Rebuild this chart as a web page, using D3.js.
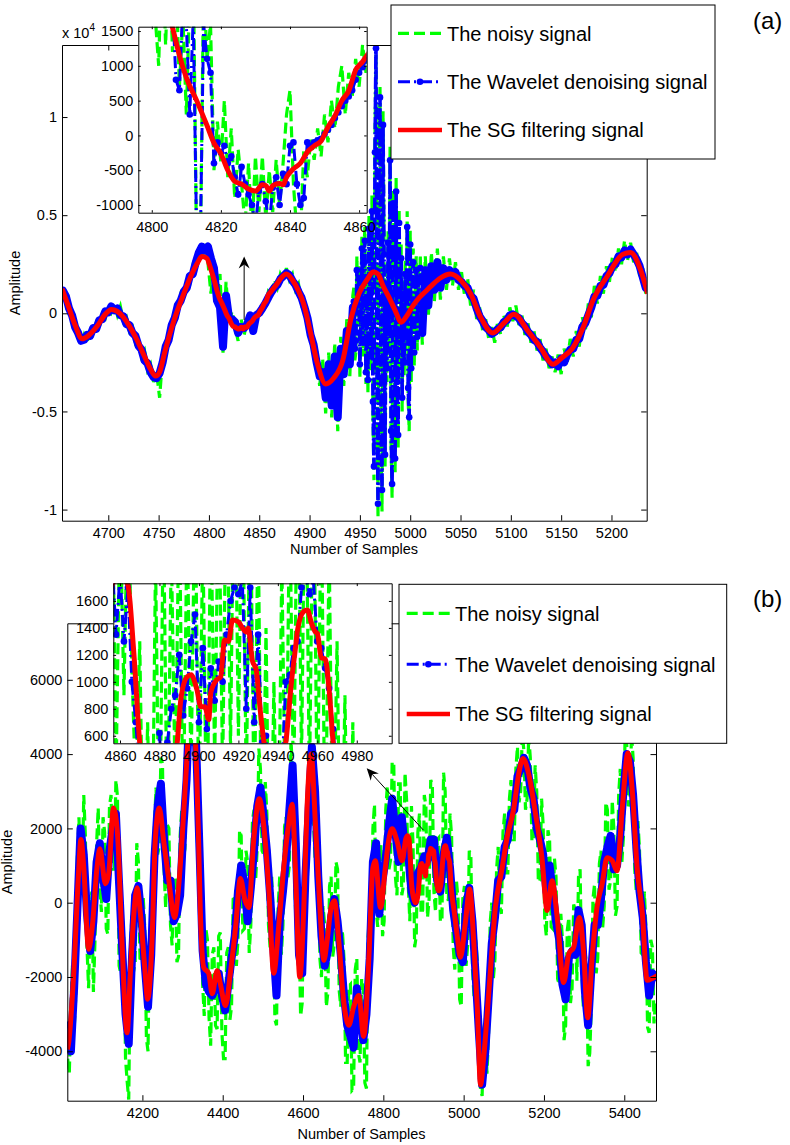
<!DOCTYPE html>
<html>
<head>
<meta charset="utf-8">
<script src="https://cdn.jsdelivr.net/npm/d3@7"></script>
<style>
  body { margin: 0; background: #fff; }
</style>
</head>
<body>
<div id="fig"></div>
<script>
// ---------- panel (a) data ----------
// before the burst: every 3 samples from 4655
var aStart1 = 4655, aStep1 = 3;
var aWavelet1 = [1150, 850, 250, -100, -700, -1000, -1400, -1350, -1100, -1150,
  -750, -800, -350, -300, 100, 50, 350, 150, 250, -100,
  -150, -550, -600, -1000, -1150, -1650, -1850, -2400, -2550, -3000,
  -3250, -3300, -3050, -2500, -1700, -1350, -600, -250, 400, 650,
  1100, 1300, 1900, 2000, 2600, 3100, 3400, 3200, 3400, 2800,
  2300, 650, 300, -1700, 900, -250, -300, -450, -1000, -700,
  -750, -550, -100, -900, -100, 20, 250, 500, 800, 1080,
  1300, 1450, 1750, 1900, 2050, 1950, 1650, 1450, 1100, 800,
  300, -250, -1100, -1600, -2500, -3200, -3000, -4300, -2600, -4700,
  -2200, -5300, -1800, -3100, -900, -2600, 300];
var aNoisy1 = [1000, 950, 0, 0, -850, -800, -1600, -1100, -1450, -900,
  -1050, -500, -700, -50, -250, 350, 50, 500, -100, 350,
  -400, -200, -900, -700, -1500, -1300, -2200, -1900, -2900, -2600,
  -3500, -3000, -4300, -2200, -2100, -1000, -1000, 100, 0, 950,
  800, 1700, 1500, 2400, 2200, 3300, 2700, 3600, 2600, 1000,
  2700, 700, 2000, -2000, 1600, -400, 100, -700, -1400, -300,
  -1100, -400, -700, -200, -350, 300, 100, 300, 1100, 900,
  1700, 1300, 2000, 1700, 2300, 1700, 2000, 1200, 1500, 500,
  800, -700, -600, -2100, -1900, -3700, -2300, -5100, -2000, -5300,
  -1500, -6000, -1200, -3700, -300, -3200, 900];
// the burst: every sample from 4944 to 5010
var aStart2 = 4944, aStep2 = 1;
var aWavelet2 = [600, -1800, -1400, 2200, 400, 1800, -2600, -300, 3300, -1500,
  2600, 3700, -3000, 500, -3400, 4300, 1200, -2200, 5200, -4500,
  -7800, 8200, 13500, -2500, -9700, 6500, 11000, -5800, -9000, 9600,
  3000, -7200, 1500, -2800, 3600, -1000, 7800, -6000, -8700, 5600,
  3000, -7400, 6200, -3500, -6200, 4600, -1500, 2800, -4300, 1000,
  -2500, 2000, -1200, 4400, -3800, -5300, 3500, -2800, 1800, 2600,
  -2000, 600, 2200, -1200, 1800, 200, 2300];
var aNoisy2 = [1300, -2400, -2000, 2900, -200, 2500, -3300, 300, 4000, -2200,
  3300, 4400, -3600, 1200, -4100, 5000, 600, -2900, 6000, -5200,
  -8500, 9000, 13200, -3200, -10400, 7200, 11600, -6500, -10100, 10300,
  3700, -7900, 2200, -3500, 4300, -1700, 8500, -6700, -9400, 6300,
  3700, -8100, 6900, -4200, -6900, 5300, -2200, 3500, -5000, 1700,
  -3200, 2700, -1900, 5200, -4500, -6000, 4200, -3500, 2500, 3300,
  -2700, 1300, 2900, -1900, 2500, -500, 3000];
// after the burst: every 3 samples from 5012
var aStart3 = 5012, aStep3 = 3;
var aWavelet3 = [-1000,
  2200, 400, 2400, 1200, 2600, 1300, 2300, 1700, 2200, 1900,
  2100, 1700, 1600, 1400, 1300, 900, 750, 250, -150, -400,
  -700, -850, -1050, -950, -800, -700, -450, -350, -100, -50,
  -150, -250, -500, -650, -950, -1100, -1350, -1450, -1750, -1950,
  -2200, -2350, -2600, -2500, -2700, -2300, -2500, -2100, -1850, -1800,
  -1350, -1300, -700, -500, -100, 300, 850, 900, 1400, 1450,
  1900, 2050, 2400, 2500, 2900, 2850, 3200, 3000, 3250, 3000,
  2750, 2400, 1850, 1300];
var aNoisy3 = [-1600,
  2900, -200, 3100, 600, 3300, 700, 2900, 1200, 2800, 1400,
  2600, 1200, 2100, 900, 1800, 400, 1200, -300, 300, -900,
  -300, -1300, -700, -1500, -400, -1100, -100, -800, 300, -400,
  400, -600, -100, -1100, -500, -1500, -900, -1900, -1300, -2400,
  -1800, -2800, -2200, -3000, -2100, -3100, -1800, -2500, -1300, -2200,
  -900, -1700, -200, -900, 500, -200, 1400, 500, 1900, 1000,
  2400, 1600, 2900, 2100, 3300, 2500, 3700, 2700, 3600, 2600,
  3100, 1900, 2300, 1000];
// SG filtered signal read at these samples
var aSgSamples = [4654, 4660, 4667, 4674, 4680, 4689, 4697, 4703, 4709, 4715,
  4721, 4728, 4736, 4742, 4747, 4751, 4756, 4765, 4775, 4783,
  4789, 4793, 4798, 4801, 4804, 4806, 4808, 4810, 4813, 4816,
  4818, 4820, 4822, 4824, 4826, 4828, 4830, 4832, 4833, 4834,
  4835, 4837, 4838, 4839, 4841, 4843, 4845, 4847, 4849, 4851,
  4853, 4855, 4857, 4859, 4861, 4863, 4867, 4871, 4877, 4883,
  4889, 4894, 4901, 4908, 4916, 4924, 4933, 4941, 4949, 4957,
  4963, 4968, 4973, 4980, 4985, 4991, 4997, 5003, 5009, 5015,
  5021, 5030, 5040, 5050, 5060, 5070, 5082, 5093, 5103, 5117,
  5129, 5142, 5151, 5161, 5172, 5182, 5196, 5211, 5219, 5229, 5236];
var aSgValues = [1250, 400, -600, -1300, -1150, -650, -50, 200, 100, -200,
  -650, -1300, -2200, -2850, -3200, -3000, -2000, -400, 1000, 2000,
  2600, 2900, 2800, 2400, 1900, 1550, 1150, 830, 500, 140,
  -110, -260, -500, -660, -700, -770, -800, -710, -720, -800,
  -720, -690, -710, -600, -480, -400, -240, -150, -80, 120,
  280, 500, 640, 940, 1060, 1200, 1450, 1750, 2000, 1700,
  1150, 500, -1000, -2600, -3600, -3300, -2400, -300, 1000, 1700,
  2100, 2000, 1400, 700, 150, -450, -100, 400, 800, 1100,
  1400, 1800, 2000, 1700, 1000, -200, -1000, -500, -50, -900,
  -1700, -2600, -2250, -1800, -700, 700, 1900, 3000, 3100, 2200, 1000];
// inset (a): every sample from 4796
var aInsetStart = 4796, aInsetStep = 1;
var aInsetWavelet = [3200, 3000, 3500, 3400, 3000, 2600, 2800, 2200, 2500, 2300,
  1900, 800, 650, 1900, 1600, 300, 1700, -1500, -1700, 1600,
  1100, 900, -400, -100, -250, -150, -400, -300, -600, -850,
  -450, -700, -850, -1000, -1300, -800, -700, -950, -1300, -750,
  -600, -1000, -550, -700, -150, -100, -700, -1000, -900, -100,
  -150, -100, -70, -50, 20, 80, 150, 250, 330, 420,
  500, 560, 650, 800, 900, 980, 1080, 1150];
var aInsetNoisy = [3600, 2400, 3900, 2600, 3300, 1700, 1000, 2900, 1300, 2700,
  1200, 2300, 700, 1700, 300, 2000, 2500, -1800, -2000, 2200,
  1100, 1600, -500, 200, -400, 500, -600, 100, -900, -200,
  -700, -1300, -400, -1400, -300, -1100, -300, -1200, -500, -1100,
  -350, -1000, -400, 300, 650, -700, -1400, -1500, -200, -600,
  -50, -350, 100, -300, 300, -100, 500, 100, 700, 1000,
  300, 900, 550, 1100, 700, 1300, 900, 1300];

// ---------- panel (b) data ----------
var bStart = 4014, bStep = 8;
var bWavelet = [-3300, -4000, -2300, -200, 2000, 1300, -300, -1300, -500, 1100,
  1600, 700, 100, 1400, 2000, 2400, 500, -1300, -3000, -3800,
  -1500, 200, 450, -400, -1700, -2800, -1400, 1200, 2600, 3200,
  1700, 600, 600, -500, -300, 200, 2000, 3300, 5600, 5800,
  4200, 1500, -1300, -2200, -2400, -2500, -2300, -1900, -2500, -2900,
  -2200, -1500, -900, 300, 1000, 500, -500, 400, 1400, 2600,
  3100, 2300, 1400, 200, -1200, -2500, -500, 300, 1200, 2500,
  3700, 1600, -1400, -1900, 700, 2500, 4200, 3000, 700, -900,
  -1700, -1300, -400, 100, -500, -1400, -2500, -3300, -3600, -3900,
  -2300, -3000, -3700, -3000, -1500, 1100, 1600, -300, 600, 1200,
  2100, 2800, 1900, 1100, 2300, 1400, 1300, 300, 0, 800,
  950, 1250, 1150, 1700, 1700, 600, 300, 1300, 1750, 950,
  -200, -800, -1400, -1600, -100, 400, -500, -2000, -3500, -4900,
  -4000, -2600, -1100, -400, 600, 700, 1500, 1700, 2400, 2500,
  3400, 3600, 3900, 3700, 3100, 2800, 2000, 1700, 1300, 300,
  1000, 300, -500, -1000, -2200, -2600, -1500, -1300, -1400, -200,
  -600, -2400, -3300, -1800, -600, -600, 100, 1100, 1500, 1800,
  900, 1000, 1800, 3000, 4000, 3800, 2900, 1500, 300, -400,
  -1600, -2500, -1900, -2000];
// noisy signal: samples 4014 + 8k and the in-between samples 4018 + 8k
var bNoisy = [-4200, -2800, -3400, 1200, 900, 2900, -1200, -300, -2400, 1600,
  400, 2300, -700, 2600, 900, 3300, -1700, -300, -4200, -5300,
  -300, -1600, 1100, -1600, -700, -4000, -2100, 2100, 1300, 3900,
  900, 2100, -600, 600, -1600, 1800, 1200, 4500, 4400, 6500,
  2800, 2200, -2200, -700, -3100, -1400, -3300, -900, -3500, -4200,
  -1200, -2800, 200, -1000, 1800, -700, 1100, -600, 2500, 1500,
  3600, 1300, 2400, -1200, -500, -3300, 700, -600, 2300, 1000,
  3500, -400, -600, -2700, 1800, 2000, 4500, 1200, 2100, -2000,
  -600, -2400, 700, -1100, 900, -2800, -1500, -4300, -2200, -5000,
  -1500, -4300, -2300, -5000, -200, 2000, -200, 1000, -900, 2500,
  900, 3800, 700, 3200, 200, 3500, 500, 2600, -1200, 1900,
  -300, 2900, -400, 3300, 300, 1700, -500, 3500, 200, 2400,
  -1200, 600, -2600, 100, -1700, 1400, -1800, -1000, -4600, -5200,
  -3100, -3600, 0, -1500, 1500, -300, 2400, 800, 3300, 1700,
  4200, 3000, 4100, 2800, 3900, 1700, 3000, 600, 2100, -900,
  1700, -700, 700, -2200, -1000, -3300, -400, -2300, -200, 700,
  -1800, -1300, -4400, -2800, 500, -1500, 1400, -100, 2500, 600,
  2000, -100, 3600, 1800, 4300, 2700, 3900, 300, 1400, -1400,
  -700, -3500, -1200, -2600];
var bMidStart = 4018;
var bNoisyMid = [-4600, -1650, -2550, 2300, 450, 1800, -2300, 300, -1000, 2550,
  -250, 1900, -850, 2900, 900, 2850, -1900, -1050, -4800, -1350,
  -1850, 1600, -1500, 150, -3650, -800, -1400, 3100, 1500, 3750,
  -150, 2000, -1150, 700, -1450, 2500, 1450, 5750, 4200, 6200,
  1350, 1500, -3050, -1000, -3850, -1200, -3400, -800, -4200, -1350,
  -3150, 100, -1700, 1950, -750, 1400, -1350, 2200, 600, 4150,
  1400, 3250, -600, 700, -3150, -100, -1400, 2050, 650, 4400,
  1150, 1300, -3050, 700, 300, 4650, 2200, 3150, -1500, -100,
  -2800, 450, -1450, 1100, -2350, -750, -4300, -2250, -5050, -1800,
  -4050, -2050, -4850, -950, -1400, 2650, -650, 1550, -500, 3150,
  1150, 3750, 200, 3200, 450, 2750, -500, 1550, -900, 2400,
  -200, 2600, 100, 3200, -250, 1750, -500, 3000, 50, 1800,
  -1800, 100, -2800, 450, -1150, 1250, -2550, -1550, -5000, -3450,
  -4600, -550, -2050, 900, -100, 1900, 800, 2800, 1700, 3600,
  2700, 4550, 2500, 4500, 1650, 3700, 550, 2800, -500, 1950,
  -650, 1200, -2050, -300, -3700, -750, -2700, -50, -2100, 900,
  -2800, -1650, -4050, 100, -1900, 1050, -700, 2700, 350, 2750,
  -350, 2900, 1100, 4500, 2600, 4550, 900, 2200, -1350, 300,
  -3350, -1000, -3250];
var bSgSamples = [4013, 4016, 4029, 4041, 4047, 4054, 4066, 4075, 4087, 4094,
  4108, 4116, 4128, 4138, 4149, 4162, 4170, 4180, 4187, 4195,
  4207, 4213, 4224, 4232, 4242, 4253, 4266, 4280, 4290, 4301,
  4311, 4320, 4332, 4340, 4344, 4353, 4365, 4374, 4386, 4394,
  4407, 4419, 4432, 4444, 4456, 4465, 4477, 4491, 4502, 4515,
  4527, 4540, 4552, 4564, 4573, 4581, 4592, 4602, 4610, 4620,
  4631, 4642, 4652, 4660, 4670, 4678, 4689, 4701, 4714, 4726,
  4739, 4751, 4764, 4774, 4780, 4793, 4805, 4813, 4822, 4834,
  4847, 4856, 4860, 4864, 4867, 4870, 4873, 4876, 4880, 4884,
  4887, 4889, 4891, 4894, 4896, 4899, 4901, 4903, 4905, 4906,
  4909, 4911, 4913, 4915, 4917, 4920, 4922, 4924, 4925, 4927,
  4929, 4931, 4933, 4936, 4938, 4941, 4944, 4947, 4949, 4950,
  4953, 4955, 4957, 4959, 4960, 4962, 4964, 4966, 4968, 4972,
  4976, 4984, 4992, 5004, 5015, 5025, 5034, 5042, 5050, 5063,
  5079, 5096, 5108, 5125, 5137, 5148, 5162, 5179, 5195, 5208,
  5220, 5233, 5249, 5262, 5274, 5288, 5299, 5309, 5320, 5332,
  5345, 5357, 5370, 5382, 5395, 5409, 5420, 5432, 5445, 5457,
  5469, 5482];
var bSgValues = [-3950, -3800, -1900, 780, 1700, 940, -1250, -670, 940, 1450,
  510, 780, 2550, 1850, -1020, -3500, -1900, -130, 400, -300,
  -1900, -2600, -1020, 1660, 2550, 1660, 590, -400, 400, 2100,
  3900, 5500, 4350, 1660, -130, -1750, -1900, -2450, -1830, -2180,
  -2770, -1900, -670, 650, 50, -130, 1660, 2800, 2100, 320,
  -1900, -560, 940, 2100, 2650, 940, -2000, -130, 2550, 4000,
  2100, -130, -1550, -1020, -130, 50, -1020, -2630, -3300, -2810,
  -2500, -3600, -1470, 940, 1130, -130, 940, 1660, 1990, 1660,
  1130, 1720, 1800, 1718, 1215, 548, 250, 100, 0, 80,
  300, 548, 890, 1037, 1052, 940, 815, 815, 720, 920,
  1015, 1037, 1311, 1300, 1459, 1445, 1400, 1370, 1400, 1163,
  1089, 800, 548, 350, 320, 380, 548, 1015, 1260, 1385,
  1520, 1533, 1437, 1370, 1360, 1178, 1170, 940, 548, 100,
  -200, -900, -1470, -560, 370, -1020, -2810, -4900, -4160, -2360,
  -130, 940, 1750, 2550, 3460, 3880, 3460, 2390, 1210, -210,
  590, -400, -2150, -1370, -1200, -400, -1370, -3100, -1470, -130,
  510, 1210, 1130, 860, 2550, 4030, 3010, 940, -300, -2090,
  -2040, -1960];
// inset (b): every second sample from 4856
var bInsetStart = 4856, bInsetStep = 2;
var bInsetWavelet = [1900, 1350, 1800, 1300, 1700, 1000, 700, 300, 400, -200,
  200, 0, 620, 100, 550, 800, 900, 1200, 750, 950,
  1300, 1500, 700, 1250, 650, 1100, 860, 1150, 1000, 1350,
  1600, 1700, 1650, 1750, 800, 1700, 700, 1350, 550, 600,
  200, 100, 400, 300, 1000, 1050, 1250, 1300, 1700, 1800,
  1650, 1750, 1300, 1250, 1100, 950, 650, 300, 200, -200,
  0, -500, -300, -800, -600, -1100, -900, -1400, -1300, -1600, -1100];
var bInsetNoisy = [2600, 300, 2300, 900, 2500, 1100, 200, 1300, -600, 700,
  -800, 1900, -400, 2300, -200, 2000, 200, 2400, -100, 2200,
  300, 2500, 0, 2100, -300, 2300, 400, 2600, 300, 2800,
  500, 3000, 600, 2700, 200, 2600, 0, 2200, -600, 1400,
  -900, 1000, -700, 1900, -200, 2400, 100, 2900, 400, 3000,
  200, 2800, 0, 2400, -300, 2000, -500, 1300, -800, 900,
  -1000, 700, -1200, 500, -1500, 200, -1800, -200, -2200, -400, -2000];

// ---------- ticks, labels, annotations ----------
var aXTicks = [4700, 4750, 4800, 4850, 4900, 4950, 5000, 5050, 5100, 5150, 5200];
var aYTicks = [-10000, -5000, 0, 5000, 10000];
var aInsetXTicks = [4800, 4820, 4840, 4860];
var aInsetYTicks = [-1000, -500, 0, 500, 1000, 1500];
var bXTicks = [4200, 4400, 4600, 4800, 5000, 5200, 5400];
var bYTicks = [-4000, -2000, 0, 2000, 4000, 6000];
var bInsetXTicks = [4860, 4880, 4900, 4920, 4940, 4960, 4980];
var bInsetYTicks = [600, 800, 1000, 1200, 1400, 1600];
var legendLabels = ["The noisy signal", "The Wavelet denoising signal", "The SG filtering signal"];
var aArrow = [[4835, -340], [4835, 2900]];
var bArrow = [[4899.5, 1957], [4758.6, 3618]];

// ---------- styles ----------
var FONT = '"Liberation Sans", Arial, Helvetica, sans-serif';
var NOISY = { color: "#00ff00", width: 3.2, dash: "11,5" };
var WAVE = { color: "#0000ff", width: 3, dash: "12,4,2,4", r: 3.3, trail: 8, burst: 3.6, burstDash: "12,3,2,3" };
var SG = { color: "#ff0000", width: 5 };

var width = 790, height = 1145;
var svg = d3.select("#fig").append("svg")
  .attr("width", width)
  .attr("height", height)
  .style("background", "#fff");

var clipCount = 0;

// turn a regularly sampled array into [sample, value] pairs
function sampled(start, step, values) {
  return values.map(function (v, i) { return [start + i * step, v]; });
}

function drawPlot(p) {
  var x = d3.scaleLinear().domain(p.xDomain).range([p.left, p.right]);
  var y = d3.scaleLinear().domain(p.yDomain).range([p.bottom, p.top]);
  var g = svg.append("g");

  g.append("rect")
    .attr("x", p.left).attr("y", p.top)
    .attr("width", p.right - p.left).attr("height", p.bottom - p.top)
    .attr("fill", "#fff");

  var id = "clip" + (clipCount++);
  g.append("clipPath").attr("id", id).append("rect")
    .attr("x", p.left).attr("y", p.top)
    .attr("width", p.right - p.left).attr("height", p.bottom - p.top);
  var plot = g.append("g").attr("clip-path", "url(#" + id + ")");

  var line = d3.line().x(function (d) { return x(d[0]); }).y(function (d) { return y(d[1]); });
  var smooth = d3.line().curve(d3.curveMonotoneX)
    .x(function (d) { return x(d[0]); }).y(function (d) { return y(d[1]); });

  // noisy signal
  plot.append("path").datum(p.noisy)
    .attr("d", line)
    .attr("fill", "none")
    .attr("stroke", NOISY.color)
    .attr("stroke-width", NOISY.width)
    .attr("stroke-dasharray", NOISY.dash);

  // wavelet denoised signal; where it is thinned out the per-sample dots merge into a trail
  p.wavelet.forEach(function (seg) {
    var wave = plot.append("path").datum(seg.pts)
      .attr("d", line)
      .attr("fill", "none")
      .attr("stroke", WAVE.color)
      .attr("stroke-linejoin", "round");
    if (seg.mode === "trail") {
      wave.attr("stroke-width", WAVE.trail).attr("stroke-linecap", "round");
    } else if (seg.mode === "burst") {
      wave.attr("stroke-width", WAVE.burst).attr("stroke-dasharray", WAVE.burstDash);
    } else {
      wave.attr("stroke-width", WAVE.width).attr("stroke-dasharray", WAVE.dash);
    }
    plot.append("g").selectAll("circle")
      .data(seg.pts)
      .join("circle")
      .attr("cx", function (d) { return x(d[0]); })
      .attr("cy", function (d) { return y(d[1]); })
      .attr("r", WAVE.r)
      .attr("fill", WAVE.color);
  });

  // SG filtered signal
  plot.append("path").datum(p.sg)
    .attr("d", smooth)
    .attr("fill", "none")
    .attr("stroke", SG.color)
    .attr("stroke-width", SG.width)
    .attr("stroke-linejoin", "round");

  // box with inward ticks on all four sides
  var fmtX = function (d) { return String(d); };
  var fmtY = p.yFormat || fmtX;
  g.append("g").attr("transform", "translate(0," + p.bottom + ")")
    .call(d3.axisBottom(x).tickValues(p.xTicks).tickSizeInner(-p.tick).tickSizeOuter(0)
      .tickPadding(p.xPad).tickFormat(fmtX));
  g.append("g").attr("transform", "translate(0," + p.top + ")")
    .call(d3.axisTop(x).tickValues(p.xTicks).tickSizeInner(-p.tick).tickSizeOuter(0).tickFormat(""));
  g.append("g").attr("transform", "translate(" + p.left + ",0)")
    .call(d3.axisLeft(y).tickValues(p.yTicks).tickSizeInner(-p.tick).tickSizeOuter(0)
      .tickPadding(p.yPad).tickFormat(fmtY));
  g.append("g").attr("transform", "translate(" + p.right + ",0)")
    .call(d3.axisRight(y).tickValues(p.yTicks).tickSizeInner(-p.tick).tickSizeOuter(0).tickFormat(""));
  g.selectAll(".tick text")
    .attr("font-family", FONT)
    .attr("font-size", 14.5)
    .attr("fill", "#000");
  g.selectAll(".domain, .tick line").attr("stroke", "#000").attr("stroke-width", 1);

  return { x: x, y: y };
}

function drawLegend(box, rowCenters, lineX0, lineX1, textX) {
  var g = svg.append("g");
  g.append("rect")
    .attr("x", box[0]).attr("y", box[1])
    .attr("width", box[2] - box[0]).attr("height", box[3] - box[1])
    .attr("fill", "#fff").attr("stroke", "#000").attr("stroke-width", 1);
  var styles = [NOISY, WAVE, SG];
  legendLabels.forEach(function (label, i) {
    var cy = rowCenters[i];
    var s = styles[i];
    g.append("line")
      .attr("x1", lineX0).attr("x2", lineX1).attr("y1", cy).attr("y2", cy)
      .attr("stroke", s.color).attr("stroke-width", i === 2 ? 4.5 : s.width)
      .attr("stroke-dasharray", s.dash || null);
    if (s.r) {
      g.append("circle").attr("cx", (lineX0 + lineX1) / 2).attr("cy", cy)
        .attr("r", s.r).attr("fill", s.color);
    }
    g.append("text")
      .attr("x", textX).attr("y", cy + 7.2)
      .attr("font-family", FONT).attr("font-size", 20)
      .text(label);
  });
}

function drawArrow(sc, pts) {
  var x1 = sc.x(pts[0][0]), y1 = sc.y(pts[0][1]);
  var x2 = sc.x(pts[1][0]), y2 = sc.y(pts[1][1]);
  var a = Math.atan2(y2 - y1, x2 - x1);
  var len = 12, half = 5.5, notch = 8;
  var bx = x2 - len * Math.cos(a), by = y2 - len * Math.sin(a);
  var nx = x2 - notch * Math.cos(a), ny = y2 - notch * Math.sin(a);
  svg.append("line")
    .attr("x1", x1).attr("y1", y1).attr("x2", nx).attr("y2", ny)
    .attr("stroke", "#000").attr("stroke-width", 1);
  svg.append("polygon")
    .attr("points", [
      [x2, y2],
      [bx - half * Math.sin(a), by + half * Math.cos(a)],
      [nx, ny],
      [bx + half * Math.sin(a), by - half * Math.cos(a)]
    ].map(function (p) { return p.join(","); }).join(" "))
    .attr("fill", "#000");
}

function axisText(x, y, str, rotate) {
  svg.append("text")
    .attr("transform", "translate(" + x + "," + y + ")" + (rotate ? " rotate(-90)" : ""))
    .attr("text-anchor", "middle")
    .attr("font-family", FONT).attr("font-size", 14.5)
    .text(str);
}

// ================= panel (a) =================
var aSg = d3.zip(aSgSamples, aSgValues);
var aMain = drawPlot({
  left: 62, right: 646.7, top: 45, bottom: 520.7,
  xDomain: [4654, 5235], yDomain: [-10566, 13670],
  xTicks: aXTicks, yTicks: aYTicks, tick: 5.5, xPad: 7, yPad: 5,
  yFormat: function (d) { return String(d / 10000); },
  noisy: sampled(aStart1, aStep1, aNoisy1)
    .concat(sampled(aStart2, aStep2, aNoisy2), sampled(aStart3, aStep3, aNoisy3)),
  wavelet: [
    { pts: sampled(aStart1, aStep1, aWavelet1), mode: "trail" },
    { pts: sampled(aStart2, aStep2, aWavelet2), mode: "burst" },
    { pts: sampled(aStart3, aStep3, aWavelet3), mode: "trail" }
  ],
  sg: aSg
});
axisText(354, 554, "Number of Samples");
axisText(20.4, 283, "Amplitude", true);

// exponent label
var expo = svg.append("text").attr("x", 62).attr("y", 38)
  .attr("font-family", FONT).attr("font-size", 14.5);
expo.append("tspan").text("x 10");
expo.append("tspan").attr("font-size", 10).attr("dy", -7).text("4");

drawPlot({
  left: 138.3, right: 366.7, top: 26.7, bottom: 212.7,
  xDomain: [4796.1, 4862.2], yDomain: [-1110, 1562],
  xTicks: aInsetXTicks, yTicks: aInsetYTicks, tick: 2.5, xPad: 9, yPad: 5,
  noisy: sampled(aInsetStart, aInsetStep, aInsetNoisy),
  wavelet: [{ pts: sampled(aInsetStart, aInsetStep, aInsetWavelet), mode: "line" }],
  sg: aSg
});

drawLegend([391, 5, 715, 159], [33.3, 81.7, 130], 398, 442, 447);
drawArrow(aMain, aArrow);

svg.append("text").attr("x", 753).attr("y", 28.5)
  .attr("font-family", FONT).attr("font-size", 24).text("(a)");

// ================= panel (b) =================
var bSg = d3.zip(bSgSamples, bSgValues);
var bNoisyAll = sampled(bStart, bStep, bNoisy)
  .concat(sampled(bMidStart, bStep, bNoisyMid))
  .sort(function (p, q) { return p[0] - q[0]; });
var bMain = drawPlot({
  left: 67.3, right: 656, top: 623.3, bottom: 1100.7,
  xDomain: [4013, 5479], yDomain: [-5330, 7521],
  xTicks: bXTicks, yTicks: bYTicks, tick: 5.5, xPad: 7.5, yPad: 5,
  noisy: bNoisyAll,
  wavelet: [{ pts: sampled(bStart, bStep, bWavelet), mode: "trail" }],
  sg: bSg
});
axisText(361.5, 1138.7, "Number of Samples");
axisText(12.1, 862, "Amplitude", true);

drawPlot({
  left: 113.3, right: 391.7, top: 583.3, bottom: 743.3,
  xDomain: [4856.6, 4997.7], yDomain: [544, 1731],
  xTicks: bInsetXTicks, yTicks: bInsetYTicks, tick: 2.8, xPad: 7, yPad: 5,
  noisy: sampled(bInsetStart, bInsetStep, bInsetNoisy),
  wavelet: [{ pts: sampled(bInsetStart, bInsetStep, bInsetWavelet), mode: "line" }],
  sg: bSg
});

drawLegend([399, 584.3, 726.7, 743.3], [613.3, 664.3, 714], 406.7, 450, 455);
drawArrow(bMain, bArrow);

svg.append("text").attr("x", 753).attr("y", 606.7)
  .attr("font-family", FONT).attr("font-size", 24).text("(b)");
</script>
</body>
</html>
